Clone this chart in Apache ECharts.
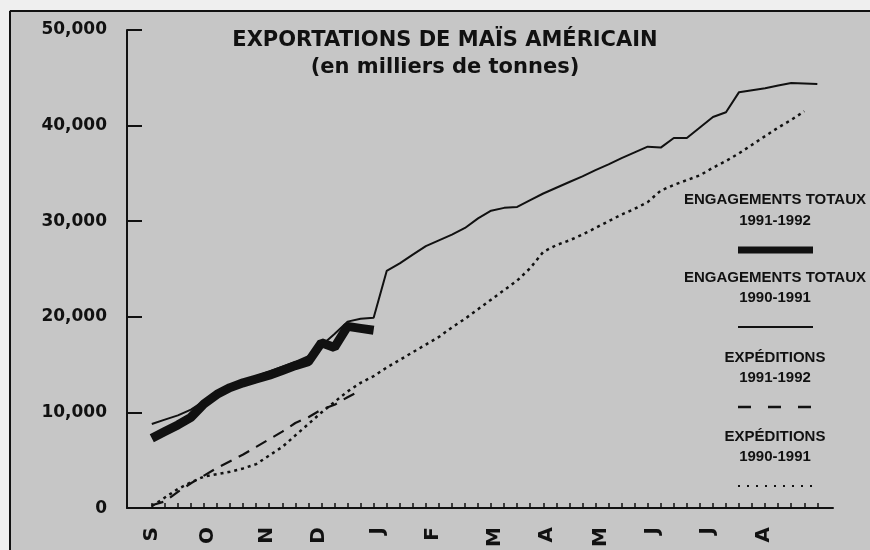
<!DOCTYPE html>
<html>
<head>
<meta charset="utf-8">
<script src="https://cdn.jsdelivr.net/npm/echarts@6/dist/echarts.min.js"></script>
<style>
  html, body { margin: 0; padding: 0; }
  #chart-container { width: 870px; height: 550px; }
</style>
</head>
<body>
<div id="chart-container"></div>
<script>
// weekly values from early September (week 0) to late August (week 51)
var engagements9192 = [7300, 8000, 8700, 9500, 10900, 11900, 12600, 13100, 13500, 13900,
    14400, 14900, 15300, 17300, 16800, 19000, 18800, 18600];
var engagements9091 = [8800, 9250, 9700, 10300, 11200, 12000, 12700, 13300, 13800, 14300,
    14800, 15300, 15900, 17000, 18200, 19500, 19800, 19900, 24800, 25600,
    26500, 27400, 28000, 28600, 29300, 30300, 31100, 31400, 31500, 32200,
    32900, 33500, 34100, 34700, 35350, 35950, 36600, 37200, 37800, 37700,
    38700, 38700, 39800, 40900, 41400, 43500, 43700, 43900, 44200, 44450,
    44400, 44350];
var expeditions9192 = [300, 700, 1700, 2600, 3400, 4200, 4900, 5600, 6400, 7200,
    8000, 8900, 9500, 10300, 10800, 11600, 12300];
var expeditions9091 = [200, 1100, 2000, 2700, 3300, 3550, 3800, 4150, 4600, 5500,
    6400, 7600, 8800, 10000, 11100, 12200, 13100, 13800, 14700, 15500,
    16300, 17100, 17900, 18900, 19800, 20800, 21800, 22800, 23800, 25100,
    26800, 27500, 28000, 28600, 29300, 30000, 30700, 31300, 32000, 33200,
    33800, 34300, 34800, 35600, 36300, 37100, 38000, 38900, 39800, 40600,
    41500];

var monthPos = [0, 4.3, 8.8, 12.8, 17.3, 21.5, 26.3, 30.3, 34.4, 38.4, 42.6, 46.9];
var monthLabels = ['S', 'O', 'N', 'D', 'J', 'F', 'M', 'A', 'M', 'J', 'J', 'A'];

var weekTicks = [];
for (var i = 0; i < 52; i++) {
    weekTicks.push(i);
}

function toPoints(arr) {
    return arr.map(function (v, i) {
        return [i, v];
    });
}

function fmt(v) {
    return String(v).replace(/\B(?=(\d{3})+(?!\d))/g, ',');
}

var chartDom = document.getElementById('chart-container');
var myChart = echarts.init(chartDom);

var legendFont = 'bold 15px "Liberation Sans", Arial, sans-serif';

function legendText(txt, y) {
    return {
        type: 'text',
        silent: true,
        style: {
            x: 775, y: y, text: txt, font: legendFont, fill: '#111',
            textAlign: 'center', textVerticalAlign: 'middle'
        }
    };
}

function legendLine(y, width, dash) {
    return {
        type: 'line',
        silent: true,
        shape: { x1: 738, y1: y, x2: 813, y2: y },
        style: { stroke: '#111', lineWidth: width, lineDash: dash }
    };
}

var option = {
    animation: false,
    backgroundColor: '#c6c6c6',
    title: {
        text: 'EXPORTATIONS DE MAÏS AMÉRICAIN',
        subtext: '(en milliers de tonnes)',
        left: 440,
        top: 24,
        textAlign: 'center',
        itemGap: 3,
        textStyle: {
            fontFamily: 'DejaVu Sans', fontWeight: 'bold', fontSize: 21,
            color: '#111', lineHeight: 24
        },
        subtextStyle: {
            fontFamily: 'DejaVu Sans', fontWeight: 'bold', fontSize: 21,
            color: '#111', lineHeight: 24
        }
    },
    grid: { left: 127, right: 37, top: 30, bottom: 38 },
    xAxis: {
        type: 'value',
        min: -1.9,
        max: 52.2,
        axisLine: { onZero: false, lineStyle: { color: '#111', width: 2 } },
        axisTick: {
            show: true, inside: true, length: 5, customValues: weekTicks,
            lineStyle: { color: '#111', width: 1.5 }
        },
        axisLabel: {
            customValues: monthPos,
            rotate: 90,
            margin: 19,
            fontFamily: 'DejaVu Sans', fontWeight: 'bold', fontSize: 20, color: '#111',
            formatter: function (v) {
                return monthLabels[monthPos.indexOf(v)];
            }
        },
        splitLine: { show: false }
    },
    yAxis: {
        type: 'value',
        min: 0,
        max: 50000,
        interval: 10000,
        axisLine: { show: true, onZero: false, lineStyle: { color: '#111', width: 2 } },
        axisTick: { show: true, inside: true, length: 15, lineStyle: { color: '#111', width: 2 } },
        axisLabel: {
            margin: 20,
            fontFamily: 'DejaVu Sans', fontWeight: 'bold', fontSize: 17, color: '#111',
            formatter: function (v) { return fmt(v); }
        },
        splitLine: { show: false }
    },
    series: [
        {
            name: 'EXPÉDITIONS 1990-1991',
            type: 'line',
            symbol: 'none',
            data: toPoints(expeditions9091),
            lineStyle: { color: '#111', width: 2.5, type: [3, 4] }
        },
        {
            name: 'EXPÉDITIONS 1991-1992',
            type: 'line',
            symbol: 'none',
            data: toPoints(expeditions9192),
            lineStyle: { color: '#111', width: 2.2, type: [12, 8] }
        },
        {
            name: 'ENGAGEMENTS TOTAUX 1991-1992',
            type: 'line',
            symbol: 'none',
            data: toPoints(engagements9192),
            lineStyle: { color: '#111', width: 9, cap: 'butt' }
        },
        {
            name: 'ENGAGEMENTS TOTAUX 1990-1991',
            type: 'line',
            symbol: 'none',
            data: toPoints(engagements9091),
            lineStyle: { color: '#111', width: 2 }
        }
    ],
    graphic: [
        // paper margin and frame
        { type: 'rect', silent: true, shape: { x: 0, y: 0, width: 870, height: 10 }, style: { fill: '#efefef' } },
        { type: 'rect', silent: true, shape: { x: 0, y: 0, width: 9, height: 550 }, style: { fill: '#efefef' } },
        { type: 'line', silent: true, shape: { x1: 10, y1: 11, x2: 870, y2: 11 }, style: { stroke: '#111', lineWidth: 2 } },
        { type: 'line', silent: true, shape: { x1: 10, y1: 11, x2: 10, y2: 550 }, style: { stroke: '#111', lineWidth: 2 } },
        // legend
        legendText('ENGAGEMENTS TOTAUX', 200),
        legendText('1991-1992', 221),
        legendLine(250, 7, null),
        legendText('ENGAGEMENTS TOTAUX', 278),
        legendText('1990-1991', 298),
        legendLine(327, 2, null),
        legendText('EXPÉDITIONS', 358),
        legendText('1991-1992', 378),
        legendLine(407, 2.5, [13, 17]),
        legendText('EXPÉDITIONS', 437),
        legendText('1990-1991', 457),
        legendLine(486, 2, [2, 7])
    ]
};

myChart.setOption(option);
</script>
</body>
</html>
